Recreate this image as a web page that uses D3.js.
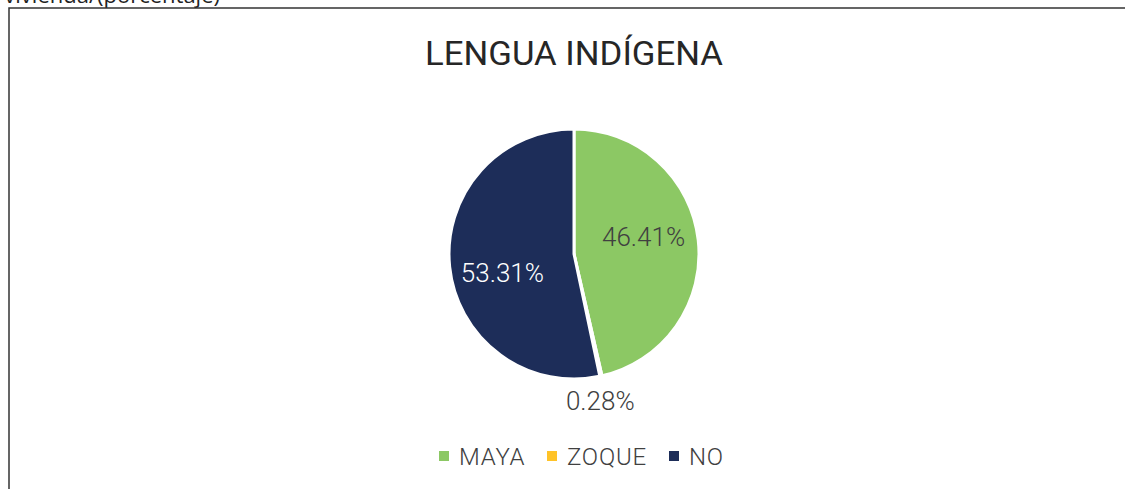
<!DOCTYPE html>
<html>
<head>
<meta charset="utf-8">
<script src="https://cdn.jsdelivr.net/npm/d3@7"></script>
<style>
  html, body { margin: 0; padding: 0; background: #fff; overflow: hidden; }
  text { font-family: Roboto, "Noto Sans", sans-serif; }
</style>
</head>
<body>
<div id="chart"></div>
<script>
// data
var categories = ["MAYA", "ZOQUE", "NO"];
var values = [46.41, 0.28, 53.31];
var labels = ["46.41%", "0.28%", "53.31%"];
var colors = ["#8CC864", "#FFC328", "#1D2D59"];

var svgwidth = 1125;
var svgheight = 489;
var cx = 574, cy = 254, radius = 125;

var svg = d3.select("#chart")
			.append("svg")
			.attr("width", svgwidth)
			.attr("height", svgheight);

// clipped caption from the page above
svg.append("text")
	.attr("x", 220)
	.attr("y", 3)
	.attr("text-anchor", "end")
	.attr("font-size", 22)
	.attr("fill", "#222")
	.style("font-family", "'Open Sans', sans-serif")
	.text("vivienda/(porcentaje)");

// frame
svg.append("path")
	.attr("d", "M9,489 V8 H1125")
	.attr("fill", "none")
	.attr("stroke", "#333")
	.attr("stroke-width", 1.5);

svg.append("text")
	.attr("x", cx)
	.attr("y", 65)
	.attr("text-anchor", "middle")
	.attr("font-size", 34)
	.attr("font-weight", 400)
	.attr("fill", "#262626")
	.attr("textLength", 298)
	.attr("lengthAdjust", "spacingAndGlyphs")
	.text("LENGUA INDÍGENA");

var items = categories.map(function(c, i) {
	return {label: c, value: values[i], text: labels[i], color: colors[i]};
});

var pie = d3.pie().sort(null).value(function(d){ return d.value; });
var arc = d3.arc().innerRadius(0).outerRadius(radius);
var slices = pie(items);

var g = svg.append("g").attr("transform", "translate(" + cx + "," + cy + ")");

g.selectAll("path")
	.data(slices)
	.enter()
	.append("path")
	.attr("d", arc)
	.attr("fill", function(d){ return d.data.color; })
	.attr("stroke", "#fff")
	.attr("stroke-width", 3)
	.attr("stroke-linejoin", "round");

// labels: inside for big slices, outside for the tiny one
var inArc = d3.arc().innerRadius(70).outerRadius(70);
var outArc = d3.arc().innerRadius(150).outerRadius(150);
var nudge = {"MAYA": [0, -9], "NO": [-2, 12], "ZOQUE": [-6, 0]};

g.selectAll("text.lbl")
	.data(slices)
	.enter()
	.append("text")
	.attr("class", "lbl")
	.attr("transform", function(d){
		var small = d.data.value < 5;
		var p = (small ? outArc : inArc).centroid(d);
		var n = nudge[d.data.label];
		return "translate(" + (p[0] + n[0]) + "," + (p[1] + n[1]) + ")";
	})
	.attr("text-anchor", "middle")
	.attr("dy", "0.35em")
	.attr("font-size", 26)
	.attr("font-weight", 300)
	.attr("fill", function(d){ return d.data.label === "NO" ? "#fff" : "#404040"; })
	.text(function(d){ return d.data.text; });

// legend
var legendX = [439, 547, 669];
var legend = svg.selectAll("g.leg")
	.data(items)
	.enter()
	.append("g")
	.attr("class", "leg")
	.attr("transform", function(d, i){ return "translate(" + legendX[i] + ",451)"; });

legend.append("rect")
	.attr("width", 10)
	.attr("height", 10)
	.attr("fill", function(d){ return d.color; });

legend.append("text")
	.attr("x", 20)
	.attr("y", 14)
	.attr("font-size", 24)
	.attr("font-weight", 300)
	.attr("letter-spacing", 0.8)
	.attr("fill", "#404040")
	.text(function(d){ return d.label; });
</script>
</body>
</html>
